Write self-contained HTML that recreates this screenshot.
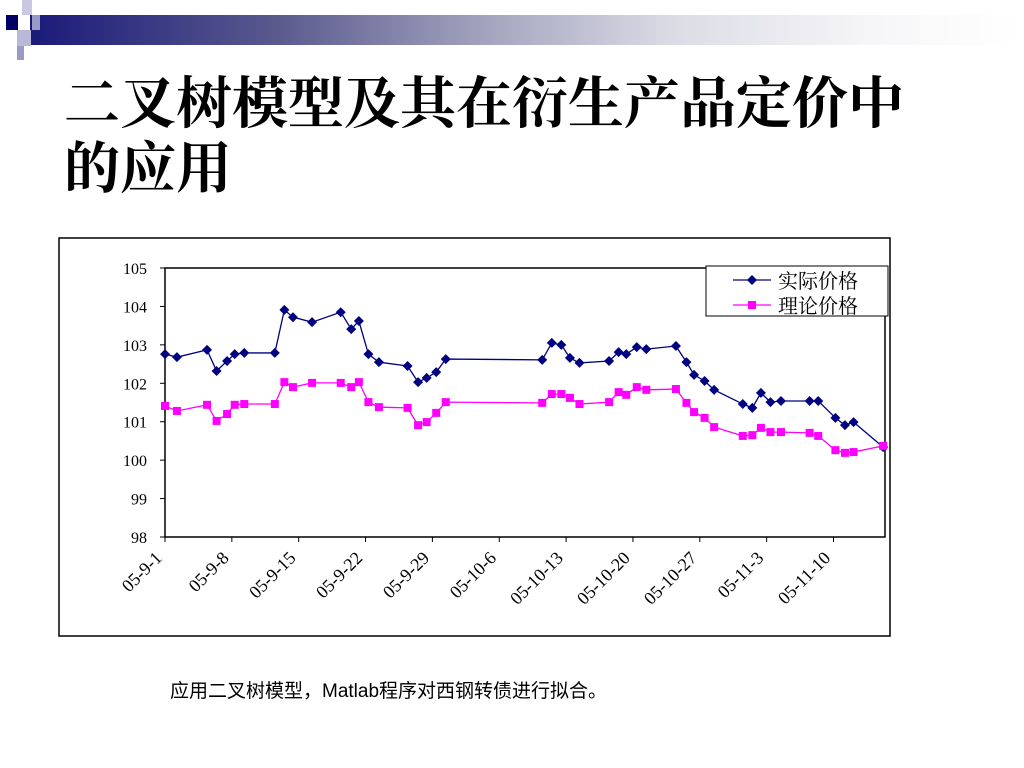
<!DOCTYPE html>
<html><head><meta charset="utf-8"><style>
body{margin:0;width:1024px;height:768px;background:#fff;overflow:hidden;position:relative;font-family:"Liberation Sans","Noto Sans CJK SC",sans-serif}
.abs{position:absolute}
</style></head><body>
<div class="abs" style="left:30px;top:15px;width:990px;height:30px;background:linear-gradient(90deg,#1a1a7a 0%,#5a5a8e 25%,#a0a0bc 45%,#dcdce6 65%,#f6f6f8 85%,#fff 100%)"></div>
<div class="abs" style="left:6px;top:15px;width:12px;height:15px;background:#000066"></div>
<div class="abs" style="left:22px;top:0px;width:10px;height:15px;background:#c8c8e0"></div>
<div class="abs" style="left:32px;top:15px;width:8px;height:15px;background:#9a9ac8"></div>
<div class="abs" style="left:17px;top:30px;width:14px;height:16px;background:#b8b8d8"></div>
<div class="abs" style="left:17px;top:46px;width:7px;height:14px;background:#9a9ac8"></div>
<div class="abs" style="left:64px;top:68px;font-size:56px;line-height:65px;color:#000;font-family:'Noto Serif CJK SC',serif;font-weight:700;white-space:nowrap">二叉树模型及其在衍生产品定价中<br>的应用</div>
<svg class="abs" style="left:0;top:0" width="1024" height="768" id="chart"></svg>
<div class="abs" style="left:170px;top:676px;font-size:19px;color:#000">应用二叉树模型，Matlab程序对西钢转债进行拟合。</div>
<script>
const days=[0,1.25,4.4,5.4,6.5,7.3,8.3,11.5,12.5,13.4,15.4,18.4,19.5,20.3,21.3,22.4,25.4,26.5,27.4,28.4,29.4,39.5,40.5,41.5,42.4,43.4,46.5,47.5,48.3,49.4,50.4,53.5,54.6,55.4,56.5,57.5,60.5,61.5,62.4,63.4,64.5,67.5,68.4,70.2,71.2,72.1,75.2];
const actual=[102.76,102.68,102.87,102.32,102.58,102.76,102.79,102.79,103.91,103.72,103.59,103.85,103.41,103.62,102.76,102.55,102.45,102.03,102.14,102.29,102.63,102.61,103.05,103.0,102.66,102.53,102.58,102.81,102.76,102.94,102.89,102.97,102.55,102.22,102.06,101.83,101.46,101.36,101.75,101.51,101.54,101.54,101.54,101.10,100.91,100.99,100.34];
const theory=[101.41,101.28,101.44,101.02,101.20,101.44,101.46,101.46,102.03,101.90,102.01,102.01,101.90,102.03,101.51,101.38,101.36,100.91,100.99,101.23,101.51,101.49,101.72,101.72,101.62,101.46,101.51,101.77,101.70,101.90,101.83,101.85,101.49,101.25,101.10,100.86,100.63,100.65,100.84,100.73,100.73,100.71,100.63,100.26,100.19,100.21,100.37];
const yTicks=[98,99,100,101,102,103,104,105];
const xTickDays=[0,7,14,21,28,35,42,49,56,63,70];
const xTickLabels=["05-9-1","05-9-8","05-9-15","05-9-22","05-9-29","05-10-6","05-10-13","05-10-20","05-10-27","05-11-3","05-11-10"];
const svg=document.getElementById('chart');const NS='http://www.w3.org/2000/svg';
const L=165,R=885,T=268,B=537;
const xs=d=>L+d*9.55;const ys=v=>T+(105-v)*(B-T)/7;
function mk(t,a,p){const e=document.createElementNS(NS,t);for(const k in a)e.setAttribute(k,a[k]);(p||svg).appendChild(e);return e;}
let e=mk('rect',{x:59,y:238,width:831,height:398,fill:'#fff',stroke:'#000','stroke-width':1.5});


e=mk('rect',{x:L,y:T,width:R-L,height:B-T,fill:'none',stroke:'#000','stroke-width':1.5});


yTicks.forEach(v=>{const y=ys(v);mk('line',{x1:L-5,x2:L,y1:y,y2:y,stroke:'#000'});
e=mk('text',{x:L-18,y:y+6,'text-anchor':'end','font-size':16,'font-family':'Liberation Serif,serif'});e.textContent=v;

});
xTickDays.forEach((d,i)=>{const x=xs(d);mk('line',{x1:x,x2:x,y1:B,y2:B+5,stroke:'#000'});
e=mk('text',{x:x-2,y:B+22,'text-anchor':'end','font-size':18,'font-family':'Liberation Serif,serif',transform:`rotate(-45 ${x-2} ${B+22})`});e.textContent=xTickLabels[i];

});
function series(vals,color,shape,name){const pts=days.map((d,i)=>xs(d)+','+ys(vals[i])).join(' ');
const g=mk('g',{});

mk('polyline',{points:pts,fill:'none',stroke:color,'stroke-width':1.3},g);
days.forEach((d,i)=>{const x=xs(d),y=ys(vals[i]);let m;
if(shape==='d')m=mk('polygon',{points:`${x},${y-5} ${x+5},${y} ${x},${y+5} ${x-5},${y}`,fill:color},g);
else m=mk('rect',{x:x-4,y:y-4,width:8,height:8,fill:color},g);

});}
series(actual,'#000080','d','actual-price-series');
series(theory,'#ff00ff','s','theoretical-price-series');
const lg=mk('g',{});

mk('rect',{x:706,y:266,width:182,height:50,fill:'#fff',stroke:'#000'},lg);
mk('line',{x1:733,x2:771,y1:280,y2:280,stroke:'#000080','stroke-width':1.3},lg);
mk('polygon',{points:'752,275 757,280 752,285 747,280',fill:'#000080'},lg);
mk('line',{x1:733,x2:771,y1:305,y2:305,stroke:'#ff00ff','stroke-width':1.3},lg);
mk('rect',{x:748,y:301,width:8,height:8,fill:'#ff00ff'},lg);
e=mk('text',{x:778,y:288,'font-size':20,'font-family':'Noto Serif CJK SC,serif'},lg);e.textContent='实际价格';


e=mk('text',{x:778,y:313,'font-size':20,'font-family':'Noto Serif CJK SC,serif'},lg);e.textContent='理论价格';


</script>
</body></html>
